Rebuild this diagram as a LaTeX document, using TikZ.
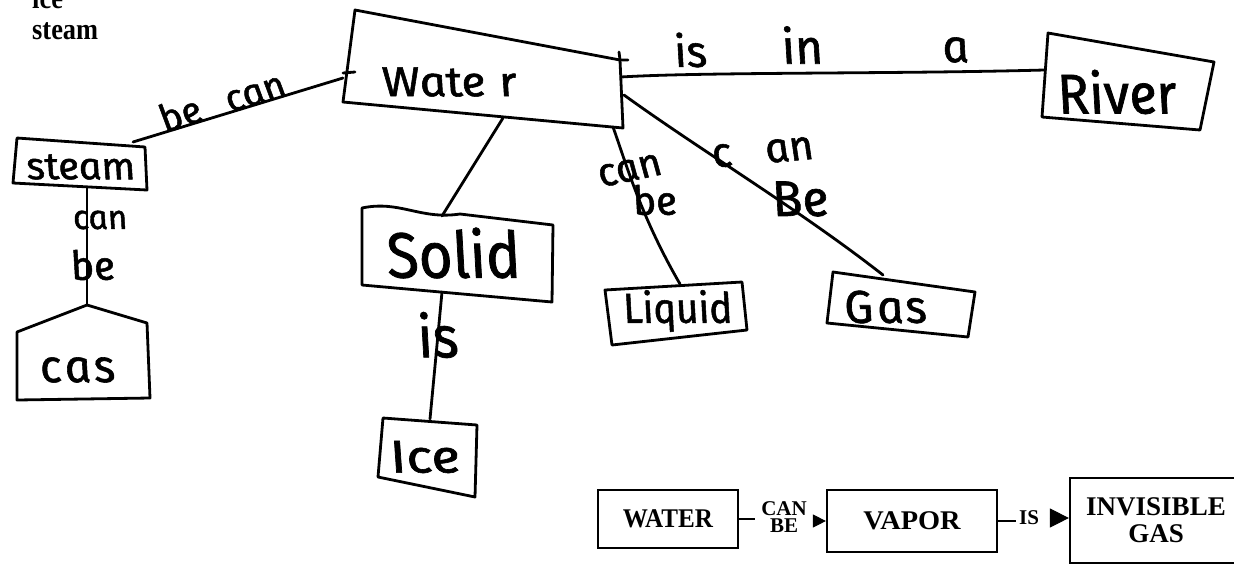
\documentclass[tikz,border=0pt]{standalone}
\usepackage{fontspec}
\usetikzlibrary{arrows.meta}
\newfontfamily\handfont{Fira Sans}[ItalicFeatures={FakeSlant=-0.2}, FakeBold=1.3]
\newfontfamily\printfont{Liberation Serif}
% handwritten word: size, horizontal scale, text
\newcommand{\hw}[3]{\scalebox{#2}[1]{\fontsize{#1}{#1}\selectfont\handfont\itshape #3}}
% printed word: size, horizontal scale, text
\newcommand{\pw}[3]{\scalebox{#2}[1]{\fontsize{#1}{#1}\selectfont\printfont\bfseries #3}}
\begin{document}
\begin{tikzpicture}[x=1pt,y=-1pt,
  hand/.style={line width=2.8pt, line join=round, line cap=round},
  htext/.style={inner sep=0pt},
  pbox/.style={draw, line width=2.2pt, inner sep=0pt, align=center},
  pline/.style={line width=2.2pt},
  ptip/.style={line width=1pt, -{Triangle[length=#1pt,width=#1pt]}}]
\useasboundingbox (0,0) rectangle (1234,566);

% ---- legend words in the corner
\node[htext, anchor=base west] (legice) at (32,8) {\pw{30}{0.88}{ice}};
\node[htext, anchor=base west] (legsteam) at (32,39) {\pw{30}{0.88}{steam}};

% ---- hand-drawn concept boxes
% Water
\draw[hand] (355,10) -- (620,60) -- (623,128) -- (343,102) -- cycle;
\draw[hand] (619,52) -- (620,60) -- (628,60);
\draw[hand] (343,73) -- (355,72);
\coordinate (waterL) at (343,78);
\coordinate (waterR) at (621,77);
\coordinate (waterRG) at (624,95);
\coordinate (waterB) at (503,118);
\coordinate (waterBL) at (613,127);
\node[htext] (water) at (452,82) {\hw{42}{1.1}{Wate\hspace{0.3em}r}};

% River
\draw[hand] (1048,33) -- (1214,62) -- (1200,130) -- (1042,117) -- cycle;
\coordinate (riverL) at (1044,70);
\node[htext] (river) at (1120,92) {\hw{56}{0.94}{River}};

% steam
\draw[hand] (17,138) -- (145,147) -- (147,190) -- (13,183) -- cycle;
\coordinate (steamT) at (133,142);
\coordinate (steamB) at (87,188);
\node[htext] (steam) at (83,167) {\hw{38}{1.05}{steam}};

% cas
\draw[hand] (87,305) -- (147,323) -- (150,398) -- (17,400) -- (17,332) -- cycle;
\coordinate (casT) at (87,305);
\node[htext] (cas) at (80,370) {\hw{46}{1}{c\hspace{3pt}a\hspace{3pt}s}};

% Solid
\draw[hand] (362,208) .. controls (400,200) and (420,220) .. (460,214) -- (553,225) -- (552,302) -- (362,285) -- cycle;
\coordinate (solidT) at (442,216);
\coordinate (solidB) at (442,292);
\node[htext] (solid) at (457,253) {\hw{64}{0.92}{Solid}};

% Ice
\draw[hand] (383,418) -- (477,425) -- (475,497) -- (378,477) -- cycle;
\coordinate (iceT) at (430,419);
\node[htext] (ice) at (428,457) {\hw{46}{1.2}{Ice}};

% Liquid
\draw[hand] (605,290) -- (742,282) -- (747,330) -- (612,345) -- cycle;
\coordinate (liquidT) at (680,284);
\node[htext] (liquid) at (680,311) {\hw{42}{0.93}{Liquid}};

% Gas
\draw[hand] (833,272) -- (975,292) -- (968,337) -- (827,323) -- cycle;
\coordinate (gasT) at (883,275);
\node[htext] (gas) at (888,307) {\hw{46}{1}{G\hspace{4pt}a\hspace{2pt}s}};

% ---- links between the concepts
\draw[hand] (steamT) -- (waterL);
\draw[hand] (waterR) .. controls (700,72) and (900,74) .. (riverL);
\draw[hand] (waterB) -- (solidT);
\draw[hand] (solidB) -- (iceT);
\draw[hand] (waterBL) .. controls (625,160) and (640,215) .. (liquidT);
\draw[hand] (waterRG) .. controls (700,150) and (800,210) .. (gasT);
\draw[hand] (steamB) -- (casT);

% ---- link words
\node[htext, rotate=17] (becan) at (224,100) {\hw{38}{1}{be\hspace{0.7em}can}};
\node[htext] (lis) at (693,50) {\hw{44}{1}{is}};
\node[htext] (lin) at (805,45) {\hw{48}{1}{in}};
\node[htext] (la) at (958,50) {\hw{46}{1}{a}};
\node[htext] (scan) at (102,220) {\hw{34}{1}{can}};
\node[htext] (sbe) at (95,265) {\hw{40}{1}{be}};
\node[htext] (sis) at (441,335) {\hw{58}{0.95}{is}};
\node[htext, rotate=12] (lcan) at (632,170) {\hw{40}{1}{can}};
\node[htext] (lbe) at (657,200) {\hw{40}{1}{be}};
\node[htext, rotate=5] (gcan) at (765,152) {\hw{42}{1}{c\hspace{0.8em}an}};
\node[htext] (gbe) at (803,199) {\hw{50}{1}{Be}};

% ---- printed chain at the bottom
\node[pbox, minimum width=140pt, minimum height=58pt] (pwater) at (668,519) {\pw{27}{0.93}{WATER}};
\node[pbox, minimum width=170pt, minimum height=62pt] (pvapor) at (912,521) {\pw{27}{1.05}{VAPOR}};
\node[pbox, minimum width=172pt, minimum height=85pt,
  font={\fontsize{27}{27}\selectfont\printfont\bfseries}] (pgas) at (1156,520.5) {INVISIBLE\\GAS};
\node[htext, align=center, font={\fontsize{21}{17}\selectfont\printfont\bfseries}]
  (pcanbe) at (784,517) {CAN\\BE};
\node[htext] (pis) at (1029,518) {\pw{21}{1}{IS}};

\draw[pline] (pwater.east) -- ([xshift=-6pt]pcanbe.west |- pwater.east);
\draw[ptip=13] ([xshift=-13pt]pvapor.west) -- (pvapor.west);
\draw[pline] (pvapor.east) -- ([xshift=-3pt]pis.west |- pvapor.east);
\draw[ptip=19] ([xshift=-19pt]pis.east -| pgas.west) -- (pis.east -| pgas.west);
\end{tikzpicture}
\end{document}
